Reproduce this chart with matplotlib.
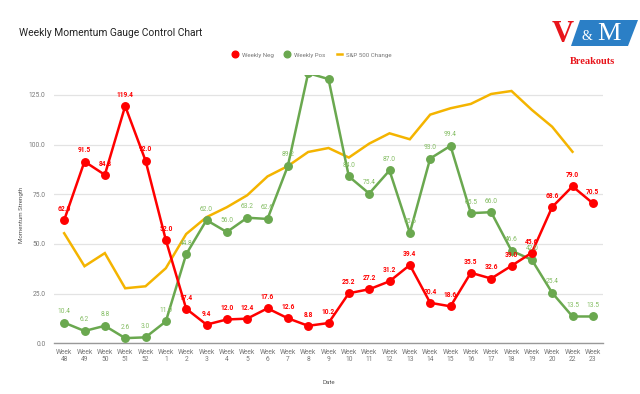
import matplotlib
matplotlib.use('Agg')
import matplotlib.pyplot as plt
from matplotlib.patches import Polygon

plt.rcParams['font.family'] = ['Roboto', 'DejaVu Sans']

weeks = ['48', '49', '50', '51', '52', '1', '2', '3', '4', '5', '6', '7', '8', '9',
         '10', '11', '12', '13', '14', '15', '16', '17', '18', '19', '20', '22', '23']
weekly_neg = [62.0, 91.5, 84.8, 119.4, 92.0, 52.0, 17.4, 9.4, 12.0, 12.4, 17.6, 12.6, 8.8, 10.2,
              25.2, 27.2, 31.2, 39.4, 20.4, 18.6, 35.5, 32.6, 39.0, 45.6, 68.6, 79.0, 70.5]
weekly_pos = [10.4, 6.2, 8.8, 2.6, 3.0, 11.0, 44.8, 62.0, 56.0, 63.2, 62.6, 89.2, 136.0, 133.0,
              84.0, 75.4, 87.0, 55.6, 93.0, 99.4, 65.5, 66.0, 46.6, 42.0, 25.4, 13.5, 13.5]
# S&P 500 change, no value for the last week
sp500 = [55.4, 38.8, 45.4, 27.7, 28.7, 37.8, 55.0, 63.5, 68.5, 74.5, 84.0, 89.2, 96.3, 98.3,
         93.5, 100.5, 105.7, 102.7, 115.1, 118.3, 120.5, 125.5, 127.0, 117.5, 109.0, 96.4]

RED = '#ff0000'
GREEN = '#6aa84f'
YELLOW = '#f4b400'
SMALL = 4.4
LABEL = 4.8

W, H = 640, 394
fig = plt.figure(figsize=(6.4, 3.94), dpi=100)

def px(x0, y0, x1, y1):
    return [x0 / W, 1 - y1 / H, (x1 - x0) / W, (y1 - y0) / H]

ax = fig.add_axes(px(54, 74.5, 603, 343.3))
x = list(range(len(weeks)))

ax.plot(x[:len(sp500)], sp500, color=YELLOW, lw=1.8, solid_joinstyle='miter', zorder=2)
ax.plot(x, weekly_pos, color=GREEN, lw=1.8, marker='o', ms=5.4, zorder=3)
ax.plot(x, weekly_neg, color=RED, lw=1.8, marker='o', ms=5.4, zorder=4)

for i, v in enumerate(weekly_pos):
    ax.annotate('%.1f' % v, (i, v), xytext=(0, 8), textcoords='offset points',
                ha='center', va='center', fontsize=LABEL, color='#84bd63',
                annotation_clip=True, clip_on=True, zorder=5)
for i, v in enumerate(weekly_neg):
    ax.annotate('%.1f' % v, (i, v), xytext=(0, 8), textcoords='offset points',
                ha='center', va='center', fontsize=LABEL, color=RED, fontweight='bold',
                zorder=6)

ax.set_xlim(-0.5, len(weeks) - 0.5)
ax.set_ylim(0, 135.3)
ax.set_yticks([0, 25, 50, 75, 100, 125])
ax.set_yticklabels(['%.1f' % t for t in [0, 25, 50, 75, 100, 125]])
ax.set_xticks(x)
ax.set_xticklabels(['Week\n' + w for w in weeks], linespacing=1.05)
ax.tick_params(axis='both', length=0, labelsize=LABEL, labelcolor='#777777')
ax.tick_params(axis='x', pad=4)
ax.tick_params(axis='y', pad=6)
ax.grid(axis='y', color='#e3e3e3', lw=0.9)
ax.set_axisbelow(True)
for s in ['top', 'right', 'left']:
    ax.spines[s].set_visible(False)
ax.spines['bottom'].set_color('#999999')
ax.spines['bottom'].set_linewidth(1.0)

ax.set_xlabel('Date', fontsize=SMALL, color='#555555', labelpad=12)
fig.text(22 / W, 1 - 215 / H, 'Momentum Strength', rotation=90, fontsize=SMALL,
         color='#555555', ha='center', va='center')

fig.text(19 / W, 1 - 33.3 / H, 'Weekly Momentum Gauge Control Chart', fontsize=7.4,
         color='#222222', ha='left', va='center')

# legend
h_neg, = ax.plot([], [], color=RED, marker='o', ls='none', ms=4.8)
h_pos, = ax.plot([], [], color=GREEN, marker='o', ls='none', ms=4.8)
h_sp, = ax.plot([], [], color=YELLOW, lw=1.8)
fig.legend([h_neg, h_pos, h_sp], ['Weekly Neg', 'Weekly Pos', 'S&P 500 Change'],
           loc='center', bbox_to_anchor=(312 / W, 1 - 55 / H), ncol=3, frameon=False,
           fontsize=SMALL, labelcolor='#777777', handlelength=0.9, handletextpad=0.7,
           columnspacing=1.8)

# V&M Breakouts logo
logo = Polygon([(580 / W, 1 - 20 / H), (638 / W, 1 - 20 / H), (628 / W, 1 - 46 / H),
                (571 / W, 1 - 46 / H)], closed=True, transform=fig.transFigure,
               facecolor='#2b7fc6', edgecolor='none')
fig.patches.append(logo)
fig.text(563 / W, 1 - 35 / H, 'V', fontsize=22, color='#e8151b', ha='center', va='center',
         family='Liberation Serif', fontweight='bold')
fig.text(587 / W, 1 - 36 / H, '&', fontsize=10, color='white', ha='center', va='center',
         family='Liberation Serif')
fig.text(609 / W, 1 - 34 / H, 'M', fontsize=19, color='white', ha='center', va='center',
         family='Liberation Serif')
fig.text(593 / W, 1 - 62 / H, 'Breakouts', fontsize=7.5, color='#e8151b', ha='center',
         va='center', family='Liberation Serif', fontweight='bold')

fig.savefig('out.png', dpi=100)
